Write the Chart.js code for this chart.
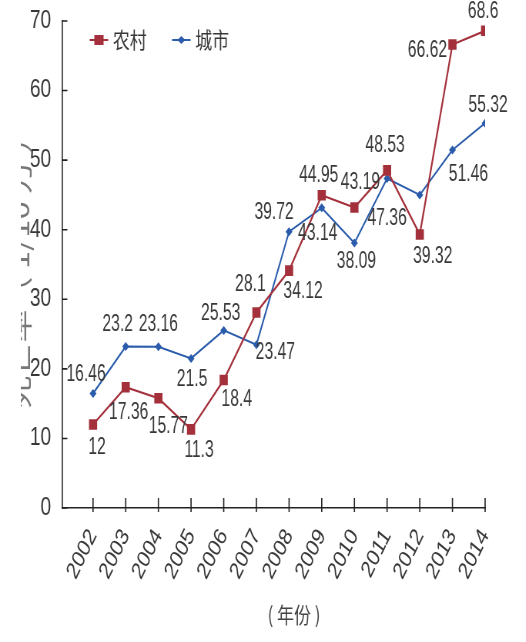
<!DOCTYPE html>
<html>
<head>
<meta charset="utf-8">
<script src="https://cdn.jsdelivr.net/npm/chart.js@4"></script>
<style>
  html, body { margin: 0; padding: 0; background: #fff; overflow: hidden; }
  #wrap { width: 683px; height: 642px; transform-origin: 0 0; }
</style>
</head>
<body>
<div id="wrap"><canvas id="deathChart" width="683" height="642"></canvas></div>
<script>
const years = [2002, 2003, 2004, 2005, 2006, 2007, 2008, 2009, 2010, 2011, 2012, 2013, 2014];
const rural = [12, 17.36, 15.77, 11.3, 18.4, 28.1, 34.12, 44.95, 43.19, 48.53, 39.32, 66.62, 68.6];
const urban = [16.46, 23.2, 23.16, 21.5, 25.53, 23.47, 39.72, 43.14, 38.09, 47.36, 45.0, 51.46, 55.32];
const yTicks = [0, 10, 20, 30, 40, 50, 60, 70];
const yAxisTitle = '死亡率（ 1/10 万 ）';
const xAxisTitle = '( 年份 )';

// where each value label sits relative to its point [dx, dy]; null = no label
const ruralLabelOffset = [[4, 23], [3, 25], [10, 28], [8, 21], [13, 19], [-6, -28], [14, 21],
  [-3, -20], [6, -25], [-2, -25], [13, 22], [-25, 6], [-2, -19]];
const urbanLabelOffset = [[-7, -19], [-8, -22], [0, -22], [1, 21], [-3, -17], [19, 8], [-15, -19],
  [-4, 26], [2, 18], [0, 40], null, [16, 24], [3, -18]];

const SQUEEZE = 0.77;
const RED = '#a3303a';
const BLUE = '#2a5cab';
const TEXT = '#383838';
const NUM_FONT = "'Liberation Sans Narrow', 'Liberation Sans', sans-serif";
const CJK_FONT = "'Noto Sans CJK SC', sans-serif";

document.getElementById('wrap').style.transform = `scaleX(${SQUEEZE})`;

// short tick marks drawn on the inside of both axes
const axisTicks = {
  id: 'axisTicks',
  beforeDatasetsDraw(chart) {
    const { ctx, scales: { x, y } } = chart;
    ctx.save();
    ctx.strokeStyle = '#222';
    ctx.lineWidth = 1.6;
    ctx.beginPath();
    x.ticks.forEach(t => {
      const px = x.getPixelForValue(t.value);
      ctx.moveTo(px, y.bottom - 10);
      ctx.lineTo(px, y.bottom + 4);
    });
    y.ticks.forEach(t => {
      const py = y.getPixelForValue(t.value);
      ctx.moveTo(x.left, py);
      ctx.lineTo(x.left + 7, py);
    });
    ctx.stroke();
    ctx.restore();
  }
};

const valueLabels = {
  id: 'valueLabels',
  afterDatasetsDraw(chart) {
    const { ctx } = chart;
    const offsets = [ruralLabelOffset, urbanLabelOffset];
    const values = [rural, urban];
    ctx.save();
    ctx.font = `24px ${NUM_FONT}`;
    ctx.fillStyle = TEXT;
    ctx.textAlign = 'center';
    ctx.textBaseline = 'middle';
    chart.data.datasets.forEach((ds, di) => {
      chart.getDatasetMeta(di).data.forEach((pt, i) => {
        const off = offsets[di][i];
        if (!off) return;
        ctx.save();
        ctx.translate(pt.x + off[0] / SQUEEZE, pt.y + off[1]);
        ctx.scale(0.85, 1);
        ctx.fillText(String(values[di][i]), 0, 0);
        ctx.restore();
      });
    });
    ctx.restore();
  }
};

// one-row legend inside the plot, top left
const rowLegend = {
  id: 'rowLegend',
  afterDraw(chart) {
    const { ctx, chartArea } = chart;
    const y = 40;
    let x = chartArea.left + 36;
    ctx.save();
    ctx.font = `22px ${CJK_FONT}`;
    ctx.textBaseline = 'middle';
    chart.data.datasets.forEach(ds => {
      const color = ds.borderColor;
      ctx.strokeStyle = color;
      ctx.fillStyle = color;
      ctx.lineWidth = 2;
      ctx.beginPath();
      ctx.moveTo(x, y);
      ctx.lineTo(x + 24, y);
      ctx.stroke();
      if (ds.pointStyle === 'rect') {
        ctx.fillRect(x + 6, y - 5, 12, 10);
      } else {
        ctx.beginPath();
        ctx.moveTo(x + 7, y); ctx.lineTo(x + 12, y - 4);
        ctx.lineTo(x + 17, y); ctx.lineTo(x + 12, y + 4);
        ctx.closePath();
        ctx.fill();
      }
      ctx.fillStyle = TEXT;
      ctx.fillText(ds.label, x + 30, y);
      x += 30 + ctx.measureText(ds.label).width + 33;
    });
    ctx.restore();
  }
};

// axis titles; the y title runs into the left margin and is cut there
const axisTitles = {
  id: 'axisTitles',
  afterDraw(chart) {
    const { ctx, chartArea, scales: { x } } = chart;
    ctx.save();
    ctx.font = `22px ${CJK_FONT}`;
    ctx.fillStyle = '#444';
    ctx.textAlign = 'center';
    ctx.textBaseline = 'middle';
    ctx.fillText(xAxisTitle, (x.left + chart.width) / 2, 615);

    ctx.beginPath();
    ctx.rect(27, 0, chart.width, chart.height);
    ctx.clip();
    ctx.translate(25, (chartArea.top + chartArea.bottom) / 2);
    ctx.rotate(-Math.PI / 2);
    ctx.font = `33px ${CJK_FONT}`;
    ctx.fillStyle = '#777';
    ctx.fillText(yAxisTitle, 0, 0);
    ctx.restore();
  }
};

const ctx = document.getElementById('deathChart').getContext('2d');
const deathChart = new Chart(ctx, {
  type: 'line',
  data: {
    datasets: [
      {
        label: '农村',
        data: years.map((yr, i) => ({ x: yr, y: rural[i] })),
        borderColor: RED,
        backgroundColor: RED,
        borderWidth: 2.2,
        pointStyle: 'rect',
        pointRadius: 7.5,
        pointBorderWidth: 0,
        tension: 0
      },
      {
        label: '城市',
        data: years.map((yr, i) => ({ x: yr, y: urban[i] })),
        borderColor: BLUE,
        backgroundColor: BLUE,
        borderWidth: 2,
        pointStyle: 'rectRot',
        pointRadius: 4.5,
        pointBorderWidth: 0,
        tension: 0
      }
    ]
  },
  options: {
    responsive: false,
    animation: false,
    layout: { padding: { left: 0, right: 53, top: 18, bottom: 0 } },
    plugins: {
      tooltip: { enabled: false },
      legend: { display: false }
    },
    scales: {
      x: {
        type: 'linear',
        min: 2001.05,
        max: 2014,
        afterBuildTicks: scale => { scale.ticks = years.map(v => ({ value: v })); },
        afterFit: scale => { scale.height = 134; },
        grid: { display: false },
        border: { display: true, color: '#222', width: 1.6 },
        ticks: {
          autoSkip: false,
          minRotation: 58,
          maxRotation: 58,
          padding: 8,
          color: TEXT,
          font: { family: "'Liberation Sans', sans-serif", size: 24 },
          callback: v => String(v)
        }
      },
      y: {
        min: 0,
        max: 70,
        afterBuildTicks: scale => { scale.ticks = yTicks.map(v => ({ value: v })); },
        afterFit: scale => { scale.width = 80.5; },
        grid: { display: false },
        border: { display: true, color: '#222', width: 1.6 },
        ticks: {
          padding: 6,
          color: TEXT,
          font: { family: NUM_FONT, size: 25 }
        }
      }
    }
  },
  plugins: [axisTicks, valueLabels, rowLegend, axisTitles]
});
</script>
</body>
</html>
